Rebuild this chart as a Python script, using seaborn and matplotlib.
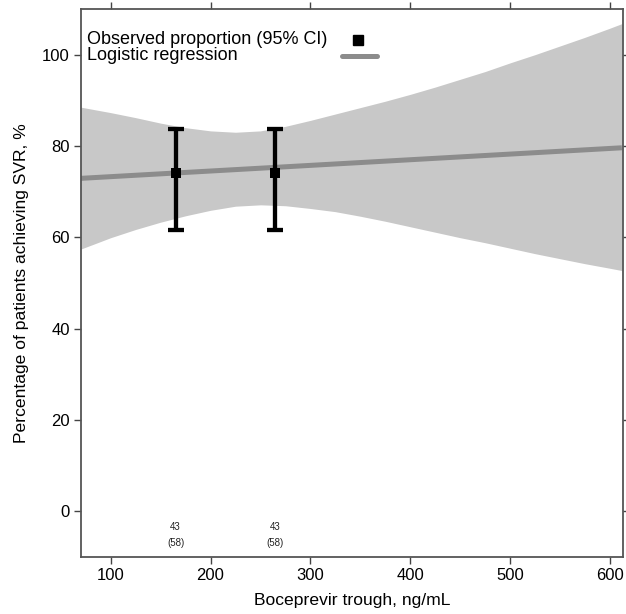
import matplotlib
matplotlib.use("Agg")
import matplotlib.pyplot as plt
import seaborn as sns
import pandas as pd

# ---- data ----
obs_x = [165, 265]
obs_y = [74.1, 74.1]
obs_lo = [61.5, 61.5]
obs_hi = [83.7, 83.7]
obs_n_resp = ["43", "43"]
obs_n_total = ["(58)", "(58)"]

fit_x = [70, 612]
fit_y = [72.9, 79.6]

band_x = [70, 100, 125, 150, 175, 200, 225, 250, 275, 300, 325, 350, 375, 400,
          425, 450, 475, 500, 525, 550, 575, 600, 612]
band_hi = [88.5, 87.3, 86.2, 85.0, 84.0, 83.3, 83.0, 83.3, 84.3, 85.6, 87.0, 88.4,
           89.8, 91.3, 92.9, 94.6, 96.3, 98.2, 100.0, 101.9, 103.8, 105.8, 106.8]
band_lo = [57.4, 59.9, 61.7, 63.3, 64.7, 65.9, 66.8, 67.1, 66.9, 66.3, 65.6, 64.6,
           63.5, 62.3, 61.1, 59.9, 58.8, 57.6, 56.4, 55.3, 54.2, 53.2, 52.7]

xticks = [100, 200, 300, 400, 500, 600]
yticks = [0, 20, 40, 60, 80, 100]
legend_labels = ["Observed proportion (95% CI)", "Logistic regression"]

sns.set_theme(style="ticks")
plt.rcParams["font.family"] = ["Liberation Sans", "DejaVu Sans"]

fig = plt.figure(figsize=(6.26, 6.14), dpi=100)
ax = fig.add_axes([0.129, 0.0933, 0.866, 0.892])

band_color = "#c8c8c8"
fit_color = "#8c8c8c"

ax.fill_between(band_x, band_lo, band_hi, color=band_color, linewidth=0, zorder=1)

fit_df = pd.DataFrame({"x": fit_x, "y": fit_y})
sns.lineplot(data=fit_df, x="x", y="y", ax=ax, color=fit_color, linewidth=3.6,
             solid_capstyle="butt", zorder=2)

obs_df = pd.DataFrame({"x": obs_x, "y": obs_y, "lo": obs_lo, "hi": obs_hi})
_, caps, bars = ax.errorbar(obs_df["x"], obs_df["y"],
                            yerr=[obs_df["y"] - obs_df["lo"], obs_df["hi"] - obs_df["y"]],
                            fmt="none", ecolor="black", elinewidth=3.1, capsize=6,
                            capthick=3.1, zorder=3)
for b in bars:
    b.set_capstyle("butt")
sns.scatterplot(data=obs_df, x="x", y="y", ax=ax, marker="s", s=55, color="black",
                edgecolor="black", linewidth=0, zorder=4)

for x, a, b in zip(obs_x, obs_n_resp, obs_n_total):
    ax.text(x, -3.4, a, ha="center", va="center", fontsize=7, color="#222222")
    ax.text(x, -6.9, b, ha="center", va="center", fontsize=7, color="#222222")

ax.set_xlim(70, 613)
ax.set_ylim(-10, 110)
ax.set_xticks(xticks)
ax.set_yticks(yticks)
ax.tick_params(axis="both", which="both", direction="out", length=5, width=1,
               color="#444444", labelsize=12, labelcolor="black",
               top=True, right=True, pad=3)
for s in ax.spines.values():
    s.set_color("#555555")
    s.set_linewidth(1.3)

ax.set_xlabel("Boceprevir trough, ng/mL", fontsize=12.6, labelpad=7, color="black")
ax.set_ylabel("Percentage of patients achieving SVR, %", fontsize=12.6, labelpad=9,
              color="black")

# manual legend (text left aligned, handles in a column on the right)
ax.text(0.012, 0.944, legend_labels[0], transform=ax.transAxes, ha="left",
        va="center", fontsize=13, color="black")
ax.text(0.012, 0.915, legend_labels[1], transform=ax.transAxes, ha="left",
        va="center", fontsize=13, color="black")
ax.plot([0.512], [0.944], transform=ax.transAxes, marker="s", color="black",
        markersize=6.5, linestyle="none", clip_on=False, zorder=5)
ax.plot([0.482, 0.547], [0.915, 0.915], transform=ax.transAxes, color=fit_color,
        linewidth=3.6, solid_capstyle="round", clip_on=False, zorder=5)

fig.savefig("out.png", dpi=100)
